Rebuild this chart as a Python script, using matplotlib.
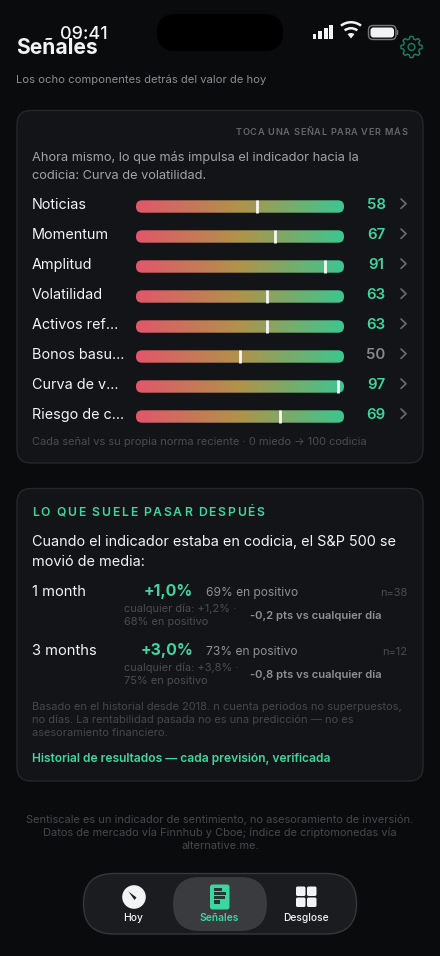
import numpy as np
import matplotlib
matplotlib.use('Agg')
import matplotlib.pyplot as plt
from matplotlib.colors import LinearSegmentedColormap
from matplotlib.font_manager import FontProperties
from matplotlib.patches import Circle, FancyBboxPatch, Polygon, Rectangle, Wedge
from matplotlib.textpath import TextPath

W, H = 440, 956

signal_names = ['Noticias', 'Momentum', 'Amplitud', 'Volatilidad', 'Activos ref…',
                'Bonos basu…', 'Curva de v…', 'Riesgo de c…']
signal_values = [58, 67, 91, 63, 63, 50, 97, 69]

horizons = ['1 month', '3 months']
horizon_returns = ['+1,0%', '+3,0%']
horizon_positive = ['69% en positivo', '73% en positivo']
horizon_n = ['n=38', 'n=12']
horizon_any = [['cualquier día: +1,2% ·', '68% en positivo'],
               ['cualquier día: +3,8% ·', '75% en positivo']]
horizon_diff = ['-0,2 pts vs cualquier día', '-0,8 pts vs cualquier día']

nav_labels = ['Hoy', 'Señales', 'Desglose']

BG = '#0a0b0d'
CARD = '#131417'
EDGE = '#25272b'
GREEN = '#3dd6a0'
WHITE = '#f2f3f5'

plt.rcParams['font.family'] = ['Inter', 'DejaVu Sans']

fig = plt.figure(figsize=(W / 100, H / 100), dpi=100, facecolor=BG)
ax = fig.add_axes([0, 0, 1, 1])
ax.set_xlim(0, W)
ax.set_ylim(H, 0)
ax.axis('off')


def txt(x, y, s, px, color, weight='normal', ha='left'):
    return ax.text(x, y, s, fontsize=px * 0.72, color=color, fontweight=weight, ha=ha, va='baseline')


def text_width(s, px, weight):
    # width of a prefix, the bar keeps trailing spaces counted
    fp = FontProperties(family='Inter', weight=weight)
    a = TextPath((0, 0), s + '|', size=px, prop=fp).get_extents().x1
    b = TextPath((0, 0), '|', size=px, prop=fp).get_extents().x1
    return a - b


def spaced(x, y, s, px, color, track, weight='normal', ha='left'):
    total = text_width(s, px, weight) + track * (len(s) - 1)
    if ha == 'right':
        x = x - total
    for i, ch in enumerate(s):
        off = text_width(s[:i], px, weight) + track * i
        txt(x + off, y, ch, px, color, weight)


def box(x0, y0, x1, y1, r, fc, ec='none', lw=1.0, z=1):
    p = FancyBboxPatch((x0, y0), x1 - x0, y1 - y0, boxstyle=f'round,pad=0,rounding_size={r}',
                       fc=fc, ec=ec, lw=lw, zorder=z)
    ax.add_patch(p)
    return p


# status bar
box(157, 14, 283, 51, 18.5, '#000000')
txt(60, 39, '09:41', 18, WHITE, 'medium')
for i, h in enumerate([5, 8, 11, 14]):
    ax.add_patch(Rectangle((312.5 + i * 5.6, 39.2 - h), 3.8, h, fc=WHITE, ec='none'))
for r, w in [(17.5, 2.5), (11.5, 2.5)]:
    ax.add_patch(Wedge((351, 38.5), r, 232, 308, width=w, fc=WHITE, ec='none'))
ax.add_patch(Wedge((351, 38.5), 5.5, 232, 308, fc=WHITE, ec='none'))
box(368.5, 25.5, 396, 39.5, 4.5, 'none', '#77787c', 1.0)
box(370.5, 27.5, 394, 37.5, 3, WHITE)
box(396.8, 30, 398.2, 35, 0.6, '#77787c')

# header
txt(16, 54, 'Señales', 21, WHITE, 'bold')
txt(16, 83, 'Los ocho componentes detrás del valor de hoy', 11.2, '#8c8d91')
ang = np.linspace(0, 2 * np.pi, 241)
rad = 9.4 + 1.2 * np.clip(2.2 * np.cos(8 * ang), -1, 1)
ax.add_patch(Polygon(np.c_[411.5 + rad * np.cos(ang), 47 + rad * np.sin(ang)], closed=True,
                     fc='none', ec='#1a7f63', lw=1.0))
ax.add_patch(Circle((411.5, 47), 3.4, fc='none', ec='#1a7f63', lw=1.0))

# card 1
box(17, 110.5, 423, 463, 14, CARD, EDGE)
spaced(407, 135, 'TOCA UNA SEÑAL PARA VER MÁS', 9.2, '#66676b', 0.68, 'semibold', ha='right')
txt(32, 161, 'Ahora mismo, lo que más impulsa el indicador hacia la', 12.8, '#a2a3a7')
txt(32, 179, 'codicia: Curva de volatilidad.', 12.8, '#a2a3a7')

row_step = 30
bars = fig.add_axes([136 / W, 1 - (191.5 + 8 * row_step) / H, 208 / W, 8 * row_step / H])
bars.axis('off')
cmap = LinearSegmentedColormap.from_list('fg', ['#e2566b', '#b0934a', '#3cc690'])
grad = np.linspace(0, 1, 256).reshape(1, -1)
bar_half = 6.2 / row_step
for i, (name, val) in enumerate(zip(signal_names, signal_values)):
    y_px = 209 + i * row_step
    txt(32, y_px, name, 14.4, WHITE)
    txt(376, y_px, str(val), 15, GREEN if val > 50 else '#88898d', 'semibold', ha='center')
    ax.plot([401, 406, 401], [y_px - 10, y_px - 5.3, y_px - 0.6], color='#6c6d71', lw=1.2,
            solid_capstyle='round', solid_joinstyle='round')
    im = bars.imshow(grad, cmap=cmap, aspect='auto', extent=(0, 100, i + bar_half, i - bar_half), zorder=1)
    clip = FancyBboxPatch((0, i - bar_half), 100, 2 * bar_half, boxstyle='round,pad=0,rounding_size=2.88',
                          mutation_aspect=(208 / 100) / row_step, fc='none', ec='none',
                          transform=bars.transData)
    bars.add_patch(clip)
    im.set_clip_path(clip)
bars.vlines(signal_values, np.arange(8) - bar_half, np.arange(8) + bar_half, color='#f7f7f5',
            lw=2.0, zorder=3)
bars.set_xlim(0, 100)
bars.set_ylim(7.5, -0.5)

txt(32, 445, 'Cada señal vs su propia norma reciente · 0 miedo → 100 codicia', 11.05, '#4b4c50')

# card 2
box(17, 488.5, 423, 781, 14, CARD, EDGE)
spaced(32, 516, 'LO QUE SUELE PASAR DESPUÉS', 12.2, GREEN, 1.66, 'semibold')
txt(32, 546, 'Cuando el indicador estaba en codicia, el S&P 500 se', 14.45, WHITE)
txt(32, 566, 'movió de media:', 14.45, WHITE)
for i in range(2):
    dy = i * 59
    txt(32, 596 + dy, horizons[i], 14.7, WHITE)
    txt(193, 596 + dy, horizon_returns[i], 15.8, GREEN, 'bold', ha='right')
    txt(206, 596 + dy, horizon_positive[i], 12, '#8f9094')
    txt(407, 596 + dy, horizon_n[i], 11, '#4b4c50', ha='right')
    txt(124, 612 + dy, horizon_any[i][0], 11, '#4b4c50')
    txt(124, 625 + dy, horizon_any[i][1], 11, '#4b4c50')
    txt(250, 619 + dy, horizon_diff[i], 11.2, '#8f9094', 'semibold')

txt(32, 710, 'Basado en el historial desde 2018. n cuenta periodos no superpuestos,', 11.08, '#46474b')
txt(32, 723, 'no días. La rentabilidad pasada no es una predicción — no es', 11.08, '#46474b')
txt(32, 736, 'asesoramiento financiero.', 11.08, '#46474b')
txt(32, 762, 'Historial de resultados — cada previsión, verificada', 12.05, GREEN, 'semibold')

# footer
for y, s in [(823, 'Sentiscale es un indicador de sentimiento, no asesoramiento de inversión.'),
             (836, 'Datos de mercado vía Finnhub y Cboe; índice de criptomonedas vía'),
             (849, 'alternative.me.')]:
    txt(220, y, s, 11.04, '#47484c', ha='center')

# tab bar
box(83.5, 873.5, 356.5, 934, 30, '#1b1c1f', '#36373b')
box(173, 877, 267, 931, 27, '#3a3b3e')
for x, s, c, w in zip([133.5, 219.5, 305.5], nav_labels, [WHITE, GREEN, WHITE], ['medium', 'semibold', 'medium']):
    txt(x, 921, s, 10.2, c, w, ha='center')

ax.add_patch(Circle((134, 897), 11.8, fc=WHITE, ec='none'))
ax.add_patch(Polygon([[128.5, 891.5], [136.5, 897.5], [134.5, 900]], closed=True, fc='#1b1c1f', ec='none'))

box(210, 884.5, 229.5, 909.5, 2.5, GREEN)
for y, x1 in [(889.3, 221.5), (893.5, 225.5), (897.7, 224.5), (901.9, 220)]:
    ax.add_patch(Rectangle((214, y - 1.7), x1 - 214, 3.4, fc='#1f3a33', ec='none'))

for x in (296, 307):
    for y in (886.5, 897.5):
        box(x, y, x + 9.5, y + 9.5, 1.6, WHITE)

fig.savefig('out.png', dpi=100, facecolor=BG)
